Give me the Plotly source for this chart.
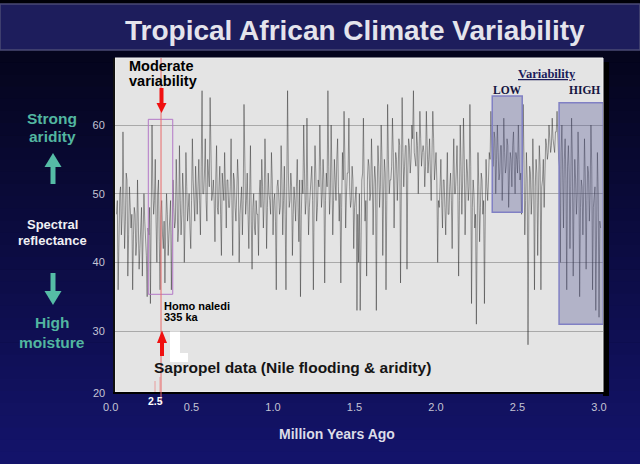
import numpy as np
import plotly.graph_objects as go

# ---------------- data ----------------
# spike values (every 0.01 Myr step)
reflectance_spikes = [
    47, 36, 50, 44, 59, 42, 53, 38, 51, 45,
    36, 48, 41, 52, 39, 46, 38, 50, 43, 35,
    44, 34, 60, 47, 55, 40, 52, 36, 49, 42,
    37, 50, 41, 47, 36, 52, 45, 55, 43, 57,
    44, 53, 40, 56, 46, 50, 42, 58, 47, 54,
    47, 55, 44, 65, 50, 58, 46, 53, 64, 49,
    52, 43, 57, 47, 54, 41, 50, 56, 45, 52,
    48, 58, 41, 52, 46, 55, 40, 50, 44, 63,
    47, 53, 42, 57, 39, 50, 44, 47, 41, 52,
    55, 45, 58, 42, 53, 49, 56, 44, 50, 36,
    52, 47, 57, 44, 54, 36, 65, 48, 53, 41,
    51, 46, 55, 43, 35, 52, 60, 47, 61, 44,
    50, 54, 36, 57, 46, 52, 60, 48, 55, 37,
    53, 65, 47, 60, 44, 55, 49, 58, 46, 37,
    56, 62, 45, 53, 61, 48, 54, 42, 50, 33,
    40, 33, 52, 61, 46, 38, 55, 49, 58, 44,
    54, 33, 57, 48, 60, 41, 55, 36, 63, 50,
    52, 61, 45, 56, 49, 58, 37, 64, 51, 57,
    39, 58, 53, 60, 65, 55, 59, 50, 62, 54,
    57, 51, 62, 53, 58, 49, 62, 52, 56, 40,
    48, 55, 45, 52, 44, 56, 47, 53, 42, 58,
    50, 57, 38, 60, 47, 61, 44, 55, 49, 63,
    34, 52, 45, 31, 56, 43, 53, 47, 34, 55,
    49, 56, 62, 54, 59, 50, 60, 52, 57, 49,
    61, 53, 58, 48, 56, 51, 59, 50, 55, 60,
    52, 47, 63, 44, 56, 28, 54, 47, 58, 36,
    55, 41, 57, 36, 52, 48, 58, 55, 60, 56,
    61, 57, 59, 62, 55, 40, 60, 45, 58, 36,
    57, 42, 61, 38, 55, 47, 59, 35, 52, 44,
    58, 39, 54, 46, 60, 36, 50, 33, 56, 32,
    45,
]
# dense central band values (between the spike samples)
reflectance_core = [
    49, 45, 51, 47, 50, 46, 52, 44, 48, 47,
    44, 47, 43, 46, 42, 48, 44, 46, 41, 45,
    48, 45, 51, 49, 46, 50, 43, 47, 44, 46,
    45, 47, 44, 49, 43, 48, 46, 50, 45, 49,
    47, 50, 46, 51, 48, 45, 49, 52, 46, 50,
    51, 49, 54, 50, 53, 49, 55, 51, 53, 50,
    49, 52, 48, 51, 47, 53, 49, 50, 52, 48,
    51, 49, 53, 48, 50, 52, 47, 51, 49, 52,
    49, 47, 50, 46, 48, 45, 49, 47, 50, 48,
    51, 49, 52, 48, 50, 47, 52, 49, 46, 51,
    50, 48, 52, 49, 47, 51, 53, 49, 51, 47,
    49, 51, 48, 52, 47, 50, 53, 49, 51, 48,
    52, 49, 50, 53, 48, 51, 54, 50, 52, 49,
    51, 54, 50, 53, 49, 52, 55, 51, 50, 48,
    52, 55, 50, 53, 51, 49, 52, 48, 51, 47,
    50, 48, 53, 51, 49, 52, 54, 50, 53, 51,
    52, 50, 54, 51, 55, 50, 53, 49, 55, 52,
    54, 56, 52, 55, 53, 57, 51, 56, 54, 57,
    53, 57, 55, 58, 56, 54, 57, 55, 58, 56,
    56, 54, 57, 55, 53, 56, 58, 54, 52, 49,
    51, 49, 52, 48, 50, 47, 51, 49, 52, 50,
    53, 51, 49, 54, 52, 55, 50, 53, 51, 54,
    48, 50, 47, 45, 51, 48, 52, 49, 47, 51,
    52, 55, 57, 54, 58, 55, 56, 53, 57, 54,
    56, 54, 57, 53, 55, 57, 54, 56, 53, 55,
    53, 51, 55, 49, 52, 47, 53, 50, 52, 51,
    53, 50, 54, 51, 55, 53, 57, 56, 58, 57,
    58, 56, 59, 57, 54, 56, 53, 55, 52, 54,
    53, 51, 55, 49, 52, 50, 54, 48, 51, 50,
    52, 49, 53, 50, 54, 48, 51, 47, 50, 46,
]

reflectance = []
for i, v in enumerate(reflectance_spikes):
    reflectance.append(v)
    if i < len(reflectance_core):
        reflectance.append(reflectance_core[i])
ages_ma = np.linspace(0.04, 3.01, len(reflectance))  # sample ages (Myr)

x_ticks = [0.5, 1.0, 1.5, 2.0, 2.5, 3.0]
x_ticktext = ["0.5", "1.0", "1.5", "2.0", "2.5", "3.0"]
y_ticks = [30, 40, 50, 60]

moderate_box = dict(x0=0.235, x1=0.385, y0=35.35, y1=60.83)
low_box = dict(x0=2.345, x1=2.529, y0=47.29, y1=64.22)
high_box = dict(x0=2.755, x1=3.026, y0=31.0, y1=63.25)
naledi_age = 0.313

# ---------------- layout helpers ----------------
W, H = 640, 464
L, R, T, B = 115, 603, 58, 392


def px(p):
    return (p - L) / (R - L)


def py(p):
    return (B - p) / (B - T)


def prect(x0, y0, x1, y1, color, layer="below", line=None):
    d = dict(type="rect", xref="paper", yref="paper",
             x0=px(x0), x1=px(x1), y0=py(y1), y1=py(y0),
             fillcolor=color, layer=layer, line=dict(width=0))
    if line:
        d["line"] = line
    return d


def ppath(points, color, layer="above"):
    s = "M " + " L ".join(f"{px(a):.5f},{py(b):.5f}" for a, b in points) + " Z"
    return dict(type="path", xref="paper", yref="paper", path=s,
                fillcolor=color, line=dict(width=0), layer=layer)


shapes = []
# background gradient
N = 34
top_c = np.array([5, 5, 28])
bot_c = np.array([20, 20, 108])
y_start = 50
for k in range(N):
    a = y_start + k * (H - y_start) / N
    b = y_start + (k + 1) * (H - y_start) / N + 0.6
    t = (k + 0.5) / N
    c = (top_c * (1 - t) + bot_c * t).astype(int)
    shapes.append(prect(-5, a, W + 5, b, f"rgb({c[0]},{c[1]},{c[2]})"))
# title band
shapes.append(prect(0, 4, W, 50, "#1d1d5c", line=dict(color="#4a4a74", width=1.5)))
# panel shadow and panel
shapes.append(prect(603, 62, 609, 396, "#000000"))
shapes.append(prect(L, T, R, B, "#e4e4e4", line=dict(color="#f2f2f2", width=1)))

# variability boxes
shapes.append(dict(type="rect", xref="x", yref="y", **moderate_box,
                   line=dict(color="#b377c7", width=1), fillcolor="rgba(0,0,0,0)", layer="above"))
shapes.append(dict(type="rect", xref="x", yref="y", **low_box,
                   line=dict(color="#8080c4", width=1.5), fillcolor="rgba(85,88,150,0.35)", layer="above"))
shapes.append(dict(type="rect", xref="x", yref="y", **high_box,
                   line=dict(color="#8080c4", width=1.5), fillcolor="rgba(85,88,150,0.35)", layer="above"))

# red vertical line at Homo naledi
shapes.append(dict(type="line", xref="x", yref="paper", x0=naledi_age, x1=naledi_age,
                   y0=py(403), y1=1.0, line=dict(color="#e86a6a", width=1), layer="above"))
# faint pink lines near axis
for xx, ytop in [(155, 381), (160, 377)]:
    shapes.append(dict(type="line", xref="paper", yref="paper", x0=px(xx), x1=px(xx),
                       y0=py(392), y1=py(ytop), line=dict(color="rgba(235,130,130,0.7)", width=1),
                       layer="above"))

# red arrows
red = "#f01010"
shapes.append(prect(159.5, 88, 163.5, 104, red, layer="above"))
shapes.append(ppath([(156.5, 103), (166.5, 103), (161.5, 113)], red))
shapes.append(prect(160, 342, 164, 356, red, layer="above"))
shapes.append(ppath([(157, 343), (167, 343), (162, 330.5)], red))

# white L mark
shapes.append(prect(170, 331.5, 180, 355, "#ffffff", layer="above"))
shapes.append(prect(170, 353, 188, 362, "#ffffff", layer="above"))

# teal arrows
teal = "#55bca6"
shapes.append(prect(50.5, 166, 55.5, 184, teal))
shapes.append(ppath([(44.5, 167), (61.5, 167), (53, 153)], teal, layer="below"))
shapes.append(prect(50.5, 273, 55.5, 292, teal))
shapes.append(ppath([(44.5, 291), (61.5, 291), (53, 305)], teal, layer="below"))

SANS = "Liberation Sans, Arial, sans-serif"
SERIF = "Liberation Serif, Times New Roman, serif"


def ann(text, x, y, size, color, bold=False, anchor="center", family=SANS):
    if bold:
        text = f"<b>{text}</b>"
    return dict(text=text, x=px(x), y=py(y), xref="paper", yref="paper",
                xanchor=anchor, yanchor="middle", showarrow=False, borderpad=0,
                font=dict(size=size, color=color, family=family))


teal_txt = "#52b6a0"
annotations = [
    ann("Tropical African Climate Variability", 355, 31, 28, "#e4e4ec", bold=True),
    ann("Moderate", 128, 66, 14.5, "#000000", bold=True, anchor="left"),
    ann("variability", 128, 81, 14.5, "#000000", bold=True, anchor="left"),
    ann("Homo naledi", 163, 306, 11, "#000000", bold=True, anchor="left"),
    ann("335 ka", 163, 317, 11, "#000000", bold=True, anchor="left"),
    ann("Sapropel data (Nile flooding &amp; aridity)", 292, 367, 15.5, "#151515", bold=True),
    ann("Million Years Ago", 337, 434, 14, "#dcdce8", bold=True),
    ann("2.5", 155, 401, 10.5, "#ffffff", bold=True),
    ann("0.0", 110, 407, 11, "#c4c4d4"),
    ann("20", 99, 393, 11, "#c4c4d4"),
    ann("<u>Variability</u>", 547, 74, 12.5, "#1c1c5a", bold=True, family=SERIF),
    ann("LOW", 507, 89.5, 11.5, "#141440", bold=True, family=SERIF),
    ann("HIGH", 584, 89.5, 11.5, "#141440", bold=True, family=SERIF),
    ann("Strong", 52, 118, 15.5, teal_txt, bold=True),
    ann("aridity", 52, 136.5, 15.5, teal_txt, bold=True),
    ann("Spectral", 52, 224.5, 13, "#f0f0f4", bold=True),
    ann("reflectance", 52, 241, 13, "#f0f0f4", bold=True),
    ann("High", 52, 322, 15.5, teal_txt, bold=True),
    ann("moisture", 52, 342, 15.5, teal_txt, bold=True),
]

fig = go.Figure()
fig.add_trace(go.Scatter(x=ages_ma, y=reflectance, mode="lines",
                         line=dict(color="rgba(40,40,40,0.5)", width=0.9),
                         hoverinfo="skip", showlegend=False))

fig.update_layout(
    width=W, height=H,
    margin=dict(l=L, r=W - R, t=T, b=H - B, pad=0),
    paper_bgcolor="#000008",
    plot_bgcolor="rgba(0,0,0,0)",
    showlegend=False,
    shapes=shapes,
    annotations=annotations,
    font=dict(family=SANS),
    xaxis=dict(range=[(L - 110) / 163, (R - 110) / 163], tickvals=x_ticks, ticktext=x_ticktext,
               showgrid=False, zeroline=False, showline=True, linecolor="#000000", linewidth=2,
               ticks="outside", ticklen=4, tickcolor="rgba(0,0,0,0)",
               tickfont=dict(size=11, color="#c4c4d4", family=SANS)),
    yaxis=dict(range=[21.12, 69.76], tickvals=y_ticks, showgrid=True, gridcolor="#a9a9a9",
               gridwidth=1, zeroline=False, showline=True, linecolor="#101010", linewidth=2,
               ticks="outside", ticklen=6, tickcolor="rgba(0,0,0,0)",
               tickfont=dict(size=11, color="#c4c4d4", family=SANS)),
)

fig.write_html("out.html", config={"displayModeBar": False},
               post_script="document.body.style.margin='0px';document.body.style.overflow='hidden';")
